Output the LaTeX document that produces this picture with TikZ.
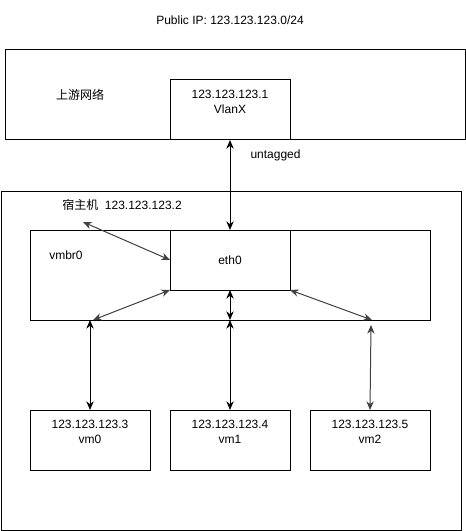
\documentclass[tikz,border=0pt]{standalone}
\usepackage{fontspec}
\setmainfont{Liberation Sans}
\newfontfamily\cjk{Noto Sans CJK SC}
\usetikzlibrary{arrows.meta, positioning}

\begin{document}
\begin{tikzpicture}[x=0.75pt, y=-0.75pt]
    \tikzstyle{box} = [rectangle, draw=black, line width=0.75pt, inner sep=0pt, outer sep=0pt]
    \tikzstyle{port} = [box, minimum width=90pt, minimum height=45pt]
    \tikzstyle{lbl} = [font=\fontsize{9}{11}\selectfont, align=center, inner sep=0pt]
    \tikzstyle{arrow} = [line width=0.75pt, {Stealth[length=6.5pt,width=5.5pt]}-{Stealth[length=6.5pt,width=5.5pt]}]

    \useasboundingbox (0,0) rectangle (466,531);

    % upstream side
    \node (title) [lbl] at (230,20) {Public IP: 123.123.123.0/24};
    \node (upstream) [box, minimum width=345pt, minimum height=67.5pt] at (235,95) {};
    \node (upname) [lbl] at (80,95) {\cjk 上游网络};
    \node (vlanx) [port] at (230,110) {};
    \node [lbl] at (230,102) {123.123.123.1\\VlanX};

    % host
    \node (host) [box, minimum width=345pt, minimum height=254.25pt] at (231,360.5) {};
    \node (hostname) [lbl] at (122,205) {{\cjk 宿主机}\ \ 123.123.123.2};
    \node (vmbr0) [box, minimum width=300pt, minimum height=67.5pt] at (230,275) {};
    \node [lbl] at (66,255) {vmbr0};
    \node (eth0) [port] at (230,260) {};
    \node [lbl] at (230,260) {eth0};

    % guests
    \node (vm0) [port] at (90,440) {};
    \node (vm1) [port, right=15pt of vm0] {};
    \node (vm2) [port, right=15pt of vm1] {};
    \node [lbl] at (90,432) {123.123.123.3\\vm0};
    \node [lbl] at (230,432) {123.123.123.4\\vm1};
    \node [lbl] at (370,432) {123.123.123.5\\vm2};

    \coordinate (hostip) at (83,222);
    \coordinate (br0) at (93,320);
    \coordinate (br2) at (372,320);
    \coordinate (br0v) at (90,320);
    \coordinate (br2v) at (371,325);

    \draw [arrow] (vlanx.south) -- node[lbl, pos=0.17, right=15pt] {untagged} (eth0.north);
    \draw [arrow, draw=black!75] (hostip) -- (eth0.west);
    \draw [arrow, draw=black!75] (eth0.south west) -- (br0);
    \draw [arrow] (eth0.south) -- (vmbr0.south);
    \draw [arrow, draw=black!75] (eth0.south east) -- (br2);
    \draw [arrow] (vm0.north) -- (br0v);
    \draw [arrow] (vm1.north) -- (vmbr0.south);
    \draw [arrow, draw=black!75] (vm2.north) -- (br2v);
\end{tikzpicture}
\end{document}
